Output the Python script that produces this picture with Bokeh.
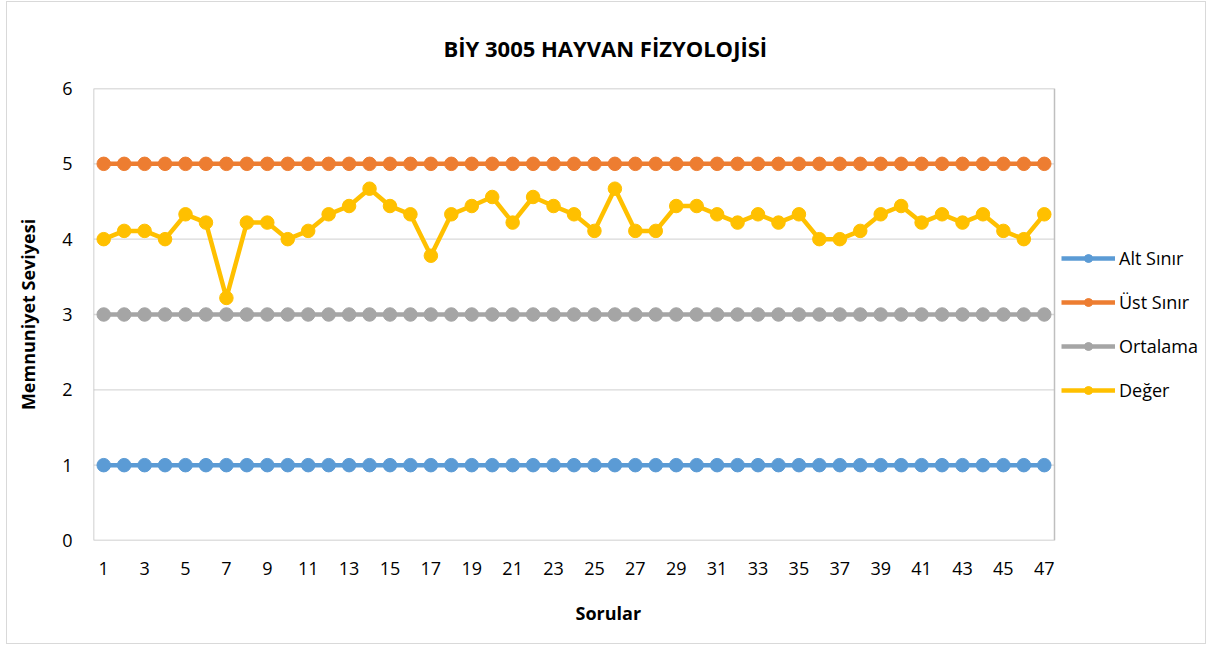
from bokeh.plotting import figure
from bokeh.models import FixedTicker, Legend, LegendItem, Range1d, BoxAnnotation, Title
from bokeh.embed import file_html
from bokeh.resources import INLINE

questions = list(range(1, 48))
alt_sinir = [1] * 47
ust_sinir = [5] * 47
ortalama = [3] * 47
deger = [4.00, 4.11, 4.11, 4.00, 4.33, 4.22, 3.22, 4.22, 4.22, 4.00,
         4.11, 4.33, 4.44, 4.67, 4.44, 4.33, 3.78, 4.33, 4.44, 4.56,
         4.22, 4.56, 4.44, 4.33, 4.11, 4.67, 4.11, 4.11, 4.44, 4.44,
         4.33, 4.22, 4.33, 4.22, 4.33, 4.00, 4.00, 4.11, 4.33, 4.44,
         4.22, 4.33, 4.22, 4.33, 4.11, 4.00, 4.33]
x_ticks = list(range(1, 48, 2))
y_ticks = [0, 1, 2, 3, 4, 5, 6]
grid_levels = [1, 2, 3, 4, 5]

series = [
    ("Alt Sınır", alt_sinir, "#5B9BD5"),
    ("Üst Sınır", ust_sinir, "#ED7D31"),
    ("Ortalama", ortalama, "#A5A5A5"),
    ("Değer", deger, "#FFC000"),
]

FONT = "Open Sans"

# plot area spans categories 0.5..47.5; the frame continues to the right to host the legend
n = len(questions)
x_lo, x_hi = 0.5, n + 0.5
left_b, right_b = 86, 2
W = 1200
px_per_unit = 961 / (x_hi - x_lo)
frame_w = W - left_b - right_b
x_end = x_lo + frame_w / px_per_unit

p = figure(width=W, height=643, output_backend="svg", toolbar_location=None,
           x_range=Range1d(x_lo, x_end), y_range=Range1d(0, 6),
           min_border_left=left_b, min_border_right=right_b, min_border_top=86, min_border_bottom=105)
p.styles = {"border": "1px solid #d9d9d9", "margin-left": "6px", "margin-top": "1px"}

p.title.text = "BİY 3005 HAYVAN FİZYOLOJİSİ"
p.title.align = "left"
p.title.offset = 350
p.title.text_font = FONT
p.title.text_font_size = "22px"
p.title.text_font_style = "bold"
p.title.text_color = "#000000"
p.title.standoff = 52

p.outline_line_color = None
p.xgrid.grid_line_color = None
p.ygrid.grid_line_color = None

p.segment(x0=x_lo, x1=x_hi, y0=grid_levels, y1=grid_levels, line_color="#D9D9D9", line_width=1.3)
p.add_layout(BoxAnnotation(left=x_lo, right=x_hi, bottom=0, top=6, fill_alpha=0,
                           line_color="#BFBFBF", line_alpha=1.0, line_width=1.5))

p.xaxis.ticker = FixedTicker(ticks=x_ticks)
p.yaxis.ticker = FixedTicker(ticks=y_ticks)
for ax in (p.xaxis[0], p.yaxis[0]):
    ax.axis_line_color = None
    ax.major_tick_line_color = None
    ax.minor_tick_line_color = None
    ax.major_label_text_font = FONT
    ax.major_label_text_font_size = "18px"
    ax.major_label_text_color = "#000000"
    ax.axis_label_text_font = FONT
    ax.axis_label_text_font_size = "18px"
    ax.axis_label_text_font_style = "bold"
    ax.axis_label_text_color = "#000000"
p.xaxis.major_label_standoff = 15
p.yaxis.major_label_standoff = 15
p.yaxis.axis_label = "Memnuniyet Seviyesi"
p.yaxis.axis_label_standoff = 19

xt = Title(text="Sorular", align="left", offset=482, text_font=FONT, text_font_size="18px",
           text_font_style="bold", text_color="#000000", standoff=42)
p.add_layout(xt, "below")

items = []
for name, vals, color in series:
    l = p.line(questions, vals, line_color=color, line_width=4.5)
    s = p.scatter(questions, vals, size=13.5, fill_color=color, line_color=color)
    items.append(LegendItem(label=name, renderers=[l, s]))

legend = Legend(items=items, location=(968, 138), orientation="vertical",
                glyph_width=54, glyph_height=20, label_height=20, spacing=20,
                label_text_font=FONT, label_text_font_size="18px",
                label_text_color="#000000", background_fill_alpha=0,
                border_line_color=None, padding=0, margin=0, label_standoff=4)
p.add_layout(legend, "center")

open("out.html", "w").write(file_html(p, INLINE))
